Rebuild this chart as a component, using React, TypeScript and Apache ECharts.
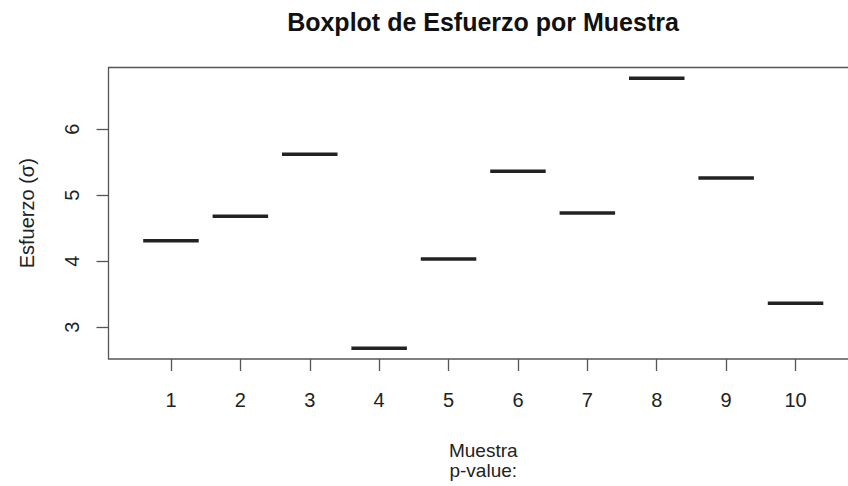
import React, { useEffect, useRef } from "react";
import * as echarts from "echarts";

const muestras = ["1", "2", "3", "4", "5", "6", "7", "8", "9", "10"];
const esfuerzo = [4.31, 4.68, 5.62, 2.68, 4.03, 5.36, 4.73, 6.77, 5.26, 3.36];
const xTicks = [1, 2, 3, 4, 5, 6, 7, 8, 9, 10];
const yTicks = [3, 4, 5, 6];

const FONT = "'Liberation Sans', Arial, sans-serif";

export default function App() {
  const ref = useRef<HTMLDivElement>(null);
  useEffect(() => {
    if (!ref.current) return;
    const chart = echarts.init(ref.current, undefined, { renderer: "svg" });
    const yMin = Math.min(...esfuerzo);
    const yMax = Math.max(...esfuerzo);
    const pad = (yMax - yMin) * 0.04;
    const data = esfuerzo.map((v, i) => [i + 1, v]);
    chart.setOption({
      animation: false,
      backgroundColor: "#ffffff",
      title: {
        text: "Boxplot de Esfuerzo por Muestra",
        left: 483,
        top: 9,
        padding: 0,
        textAlign: "center",
        textStyle: { fontFamily: FONT, fontSize: 25, fontWeight: "bold", color: "#111" },
      },
      grid: {
        left: 108.5,
        top: 67.5,
        width: 749.5,
        height: 291.5,
        show: true,
        borderColor: "#555",
        borderWidth: 1.3,
        backgroundColor: "transparent",
      },
      xAxis: {
        type: "value",
        min: 0.1,
        max: 10.9,
        name: "Muestra\np-value:",
        nameLocation: "middle",
        nameGap: 81,
        nameTextStyle: { fontFamily: FONT, fontSize: 19, color: "#222", lineHeight: 20 },
        axisLine: { show: false },
        splitLine: { show: false },
        axisTick: { show: true, length: 12, customValues: xTicks, lineStyle: { color: "#555", width: 1.3 } },
        axisLabel: {
          customValues: xTicks,
          margin: 31,
          fontFamily: FONT,
          fontSize: 20,
          color: "#222",
          formatter: (v: number) => muestras[Math.round(v) - 1] ?? "",
        },
      },
      yAxis: {
        type: "value",
        min: yMin - pad,
        max: yMax + pad,
        name: "Esfuerzo (σ)",
        nameLocation: "middle",
        nameRotate: 90,
        nameGap: 72,
        nameTextStyle: { fontFamily: FONT, fontSize: 20, color: "#222" },
        axisLine: { show: false },
        splitLine: { show: false },
        axisTick: { show: true, length: 12, customValues: yTicks, lineStyle: { color: "#555", width: 1.3 } },
        axisLabel: {
          customValues: yTicks,
          rotate: 90,
          margin: 27,
          fontFamily: FONT,
          fontSize: 20,
          color: "#222",
        },
      },
      series: [
        {
          type: "custom",
          data,
          renderItem: (params: any, api: any) => {
            const x = api.value(0);
            const v = api.value(1);
            const p1 = api.coord([x - 0.4, v]);
            const p2 = api.coord([x + 0.4, v]);
            return {
              type: "line",
              shape: { x1: p1[0], y1: p1[1], x2: p2[0], y2: p2[1] },
              style: { stroke: "#222", lineWidth: 3.5, lineCap: "butt" },
            };
          },
        },
      ],
    });
    return () => chart.dispose();
  }, []);
  return (
    <div style={{ position: "absolute", left: 0, top: 0, width: 848, height: 486, overflow: "hidden", background: "#fff" }}>
      <div ref={ref} style={{ width: 880, height: 486 }} />
    </div>
  );
}
